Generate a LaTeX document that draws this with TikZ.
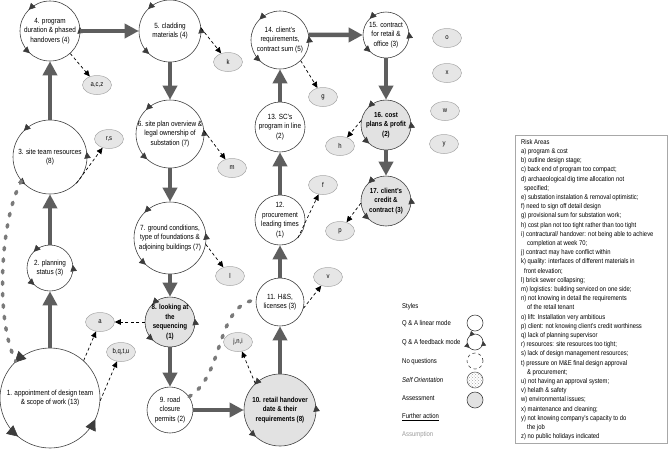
\documentclass[tikz,border=0pt]{standalone}
\usepackage{fontspec}
\setmainfont[FakeStretch=0.85]{Liberation Sans}
\usetikzlibrary{arrows.meta,decorations.markings,patterns,shapes.geometric}
\definecolor{flow}{HTML}{5E5E5E}
\definecolor{dotc}{HTML}{7A7A7A}
\definecolor{nodefill}{HTML}{E2E2E2}
\definecolor{riskfill}{HTML}{E6E6E6}
\definecolor{riskline}{HTML}{A8A8A8}
\definecolor{tri}{HTML}{3C3C3C}
\definecolor{assum}{HTML}{9A9A9A}
\tikzset{
  every node/.style={font=\fontsize{7.5}{9.5}\selectfont},
  circ/.style={circle, draw=black!75, line width=0.6pt, fill=white, inner sep=0pt, minimum size=#1},
  gcirc/.style={circ=#1, fill=nodefill},
  fb/.style={postaction={decorate, decoration={markings,
      mark=at position 0.022 with {\arrow{Triangle[length=#1,width=#1,color=tri]}},
      mark=at position 0.375 with {\arrow{Triangle[length=#1,width=#1,color=tri]}},
      mark=at position 0.633 with {\arrow{Triangle[length=#1,width=#1,color=tri]}}}}},
  fb/.default=6.5pt,
  fbone/.style={postaction={decorate, decoration={markings,
      mark=at position 0.375 with {\arrow{Triangle[length=#1,width=#1,color=tri]}},
      mark=at position 0.640 with {\arrow{Triangle[length=#1,width=#1,color=tri]}},
      mark=at position 0.930 with {\arrow{Triangle[length=#1,width=#1,color=tri]}}}}},
  txt/.style={align=center, inner sep=0pt},
  btxt/.style={align=center, inner sep=0pt, font=\fontsize{7.3}{9.5}\selectfont\bfseries},
  risk/.style={ellipse, draw=riskline, fill=riskfill, line width=0.5pt, minimum width=29pt, minimum height=19pt, inner sep=0pt, font=\fontsize{7}{8}\selectfont},
  flowarr/.style={-{Triangle[length=14pt,width=14pt]}, line width=4.5pt, draw=flow, fill=flow},
  dasharr/.style={-{Triangle[length=6pt,width=5.5pt]}, line width=0.7pt, dash pattern=on 3pt off 2.5pt, draw=black},
  dotl/.style={draw=dotc, line width=3.5pt, line cap=round, dash pattern=on 2.5pt off 9pt},
  legtxt/.style={anchor=west, inner sep=0pt, font=\fontsize{7}{8.5}\selectfont},
}
\begin{document}
\begin{tikzpicture}[x=1pt,y=-1pt]
\useasboundingbox (0,0) rectangle (668,448);

% main circles
\node[circ=100, fbone=11pt] (n1) at (50,398) {};
\node[circ=46, fb] (n2) at (50,268) {};
\node[circ=74, fb] (n3) at (50,157) {};
\node[circ=60, fb] (n4) at (50,31) {};
\node[circ=62, fb] (n5) at (170,31) {};
\node[circ=68, fb] (n6) at (170,134) {};
\node[circ=72, fb] (n7) at (170,238) {};
\node[gcirc=50, fb] (n8) at (170,322) {};
\node[circ=46] (n9) at (170,410) {};
\node[gcirc=72, fb] (n10) at (280,410) {};
\node[circ=48] (n11) at (280,302) {};
\node[circ=50] (n12) at (280,220) {};
\node[circ=50] (n13) at (280,127) {};
\node[circ=58, fb] (n14) at (280,40) {};
\node[circ=46, fb] (n15) at (386,35) {};
\node[gcirc=50, fb] (n16) at (386,125) {};
\node[gcirc=50, fb] (n17) at (386,201) {};

% labels
\node[txt] (t1) at (n1) {1. appointment of design team\\\& scope of work (13)};
\node[txt] (t2) at (n2) {2. planning\\status (3)};
\node[txt] (t3) at (n3) {3. site team resources\\(8)};
\node[txt] (t4) at (n4) {4. program\\duration \& phased\\handovers (4)};
\node[txt] (t5) at (n5) {5. cladding\\materials (4)};
\node[txt] (t6) at (n6) {6. site plan overview \&\\legal ownership of\\substation (7)};
\node[txt] (t7) at (n7) {7. ground conditions,\\type of foundations \&\\adjoining buildings (7)};
\node[btxt] (t8) at (n8) {8. looking at\\the\\sequencing\\(1)};
\node[txt] (t9) at (n9) {9. road\\closure\\permits (2)};
\node[btxt] (t10) at (n10) {10. retail handover\\date \& their\\requirements (8)};
\node[txt] (t11) at (n11) {11. H\&S,\\licenses (3)};
\node[txt] (t12) at (n12) {12.\\procurement\\leading times\\(1)};
\node[txt] (t13) at (n13) {13. SC's\\program in line\\(2)};
\node[txt] (t14) at (n14) {14. client's\\requirements,\\contract sum (5)};
\node[txt] (t15) at (n15) {15. contract\\for retail \&\\office (3)};
\node[btxt] (t16) at (n16) {16. cost\\plans \& profit\\(2)};
\node[btxt] (t17) at (n17) {17. client's\\credit \&\\contract (3)};

% risk ellipses
\node[risk] (acz) at (97,85) {a,c,z};
\node[risk] (k) at (228,62) {k};
\node[risk] (rs) at (109,139) {r,s};
\node[risk] (m) at (232,168) {m};
\node[risk] (g) at (323,97) {g};
\node[risk] (h) at (340,146) {h};
\node[risk] (f) at (323,185) {f};
\node[risk] (p) at (340,231) {p};
\node[risk] (l) at (230,276) {l};
\node[risk] (v) at (328,277) {v};
\node[risk] (a) at (100,322) {a};
\node[risk] (bqtu) at (121,352) {b,q,t,u};
\node[risk] (jni) at (238,342) {j,n,i};
\node[risk] (o) at (447,38) {o};
\node[risk] (x) at (447,73) {x};
\node[risk] (w) at (445,111) {w};
\node[risk] (y) at (444,144) {y};

% thick flow arrows
\draw[flowarr] (n1) -- (n2);
\draw[flowarr] (n2) -- (n3);
\draw[flowarr] (n3) -- (n4);
\draw[flowarr] (n4) -- (n5);
\draw[flowarr] (n5) -- (n6);
\draw[flowarr] (n6) -- (n7);
\draw[flowarr] (n7) -- (n8);
\draw[flowarr] (n8) -- (n9);
\draw[flowarr] (n9) -- (n10);
\draw[flowarr] (n10) -- (n11);
\draw[flowarr] (n11) -- (n12);
\draw[flowarr] (n12) -- (n13);
\draw[flowarr] (n13) -- (n14);
\draw[flowarr] (n14.10) -- (n15.west);
\draw[flowarr] (n15) -- (n16);
\draw[flowarr] (n16) -- (n17);

% dashed risk arrows
\draw[dasharr] (n4.-48) -- (acz);
\draw[dasharr] (n5.5) -- (k);
\draw[dasharr] (n6.5) -- (m);
\draw[dasharr] (n3.-45) -- (rs);
\draw[dasharr] (n14.-45) -- (g);
\draw[dasharr] (n16.170) -- (h);
\draw[dasharr] (n12.-45) -- (f);
\draw[dasharr] (n17.185) -- (p);
\draw[dasharr] (n7.-10) -- (l);
\draw[dasharr] (n11.-15) -- (v);
\draw[dasharr] (n8.west) -- (a);
\draw[dasharr] (n1.48) -- (a);
\draw[dasharr] (n1.-3) -- (bqtu);
\draw[dasharr] (n10.133) -- (jni);

% dotted feedback lines
\draw[dotl] (n3.220) .. controls (0,220) and (-5,320) .. (n1.133);
\draw[dotl] (n9.35) .. controls (225,375) and (215,305) .. (n11.175);

% legend
\node[legtxt] (sty) at (402,307) {Styles};
\node[legtxt] (l1) at (402,324) {Q \& A linear mode};
\node[legtxt] (l2) at (402,343) {Q \& A feedback mode};
\node[legtxt] (l3) at (402,362) {No questions};
\node[legtxt] (l4) at (402,380) {\itshape Self Orientation};
\node[legtxt] (l5) at (402,398) {Assessment};
\node[legtxt] (l6) at (402,417) {\underline{Further action}};
\node[legtxt, text=assum] (l7) at (402,435) {Assumption};
\node[circ=16] (c1) at (475,323) {};
\node[circ=16, fb=5pt] (c2) at (475,342) {};
\node[circ=16, dashed] (c3) at (475,361) {};
\node[circ=16, draw=black!60, pattern=crosshatch dots, pattern color=gray!70] (c4) at (475,380) {};
\node[gcirc=16] (c5) at (475,400) {};

% risk areas box
\node[draw=riskline, line width=0.5pt, fill=white, anchor=north west, minimum width=152pt, minimum height=308pt, inner sep=0pt] (box) at (515,135) {};
\node[anchor=north west, inner sep=0pt, align=left, font=\fontsize{6.9}{9.2}\selectfont] (risktxt) at (521,139) {Risk Areas\\
a) program \& cost\\
b) outline design stage;\\
c) back end of program too compact;\\
d) archaeological dig time allocation not\\
\hspace*{3pt}specified;\\
e) substation instalation \& removal optimistic;\\
f) need to sign off detail design\\
g) provisional sum for substation work;\\
h) cost plan not too tight rather than too tight\\
i) contractural/ handover: not being able to achieve\\
\hspace*{6pt}completion at week 70;\\
j) contract may have conflict within\\
k) quality: interfaces of different materials in\\
\hspace*{3pt}front elevation;\\
l) brick sewer collapsing;\\
m) logistics: building serviced on one side;\\
n) not knowing in detail the requirements\\
\hspace*{6pt}of the retail tenant\\
o) lift: Installation very ambitious\\
p) client: not knowing client's credit worthiness\\
q) lack of planning supervisor\\
r) resources: site resources too tight;\\
s) lack of design management resources;\\
t) pressure on M\&E final design approval\\
\hspace*{6pt}\& procurement;\\
u) not having an approval system;\\
v) helath \& safety\\
w) environmental issues;\\
x) maintenance and cleaning;\\
y) not knowing company's capacity to do\\
\hspace*{6pt}the job\\
z) no public holidays indicated};
\end{tikzpicture}
\end{document}
